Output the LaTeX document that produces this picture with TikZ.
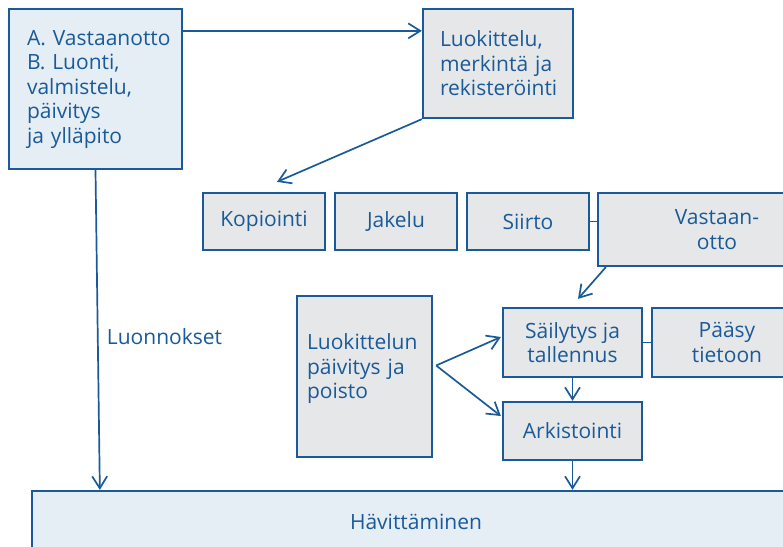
\documentclass[tikz,border=0pt]{standalone}
\usepackage{fontspec}
\setmainfont{Open Sans}
\usetikzlibrary{arrows.meta}
\definecolor{tblue}{HTML}{1A5A98}
\definecolor{lblue}{HTML}{E5EDF5}
\definecolor{lgrey}{HTML}{E6E7E9}

\begin{document}
\begin{tikzpicture}[x=1pt,y=-1pt,
	box/.style={draw=tblue,line width=2.3pt,fill=lgrey,text=tblue,inner sep=0pt,
		font=\fontsize{21}{24.5}\selectfont,align=center},
	flow/.style={draw=tblue,line width=1.7pt,-{Straight Barb[length=12pt,width=15pt]}},
	link/.style={draw=tblue,line width=1.7pt}]
	
	\clip (0,0) rectangle (783,546);
	
	% The upper boxes
	\node[box,fill=lblue,minimum width=173pt,minimum height=160pt,
	      text width=137pt,inner xsep=18pt,align=left]
	      (luonti) at (95.5,89)
	      {\mbox{A. Vastaanotto}\\B. Luonti,\\valmistelu,\\päivitys\\ja ylläpito};
	\node[box,minimum width=150pt,minimum height=109pt,
	      text width=116pt,inner xsep=17pt,align=left]
	      (luok) at (498,63.5)
	      {Luokittelu,\\merkintä ja\\\mbox{rekisteröinti}};
	
	% The middle row
	\foreach \name/\txt [count=\i] in {kop/Kopiointi,jak/Jakelu,siirto/Siirto}{
		\node[box,minimum width=122pt,minimum height=57pt]
		      (\name) at ({132*\i+132},221.5) {\txt};
	}
	\node[box,minimum width=238pt,minimum height=73pt] (vast) at (717,229.5)
	      {Vastaan-\\otto};
	
	% The lower boxes
	\node[box,minimum width=135pt,minimum height=161pt,
	      text width=115pt,inner xsep=10pt,align=left]
	      (paiv) at (364.5,376.5)
	      {Luokittelun\\päivitys ja\\poisto\\[-4pt]\mbox{}};
	\node[box,minimum width=139pt,minimum height=69pt] (sail) at (572.5,342.5)
	      {Säilytys ja\\tallennus};
	\node[box,minimum width=150pt,minimum height=69pt] (paasy) at (727,342.5)
	      {Pääsy\\tietoon};
	\node[box,minimum width=139pt,minimum height=58pt] (ark) at (572.5,431)
	      {Arkistointi};
	\node[box,fill=lblue,minimum width=768pt,minimum height=62pt] (hav) at (416,522)
	      {Hävittäminen};
	
	% The arrows
	\draw[flow] ([yshift=-23pt]luonti.north east) -- ([yshift=-23pt]luok.north west);
	\draw[flow] (luok.south west) -- ([shift={(13pt,10pt)}]kop.north);
	\draw[link] (siirto.east) -- (vast.west |- siirto.east);
	\draw[flow] ([xshift=9pt]vast.south west) -- ([shift={(5.5pt,8pt)}]sail.north);
	\draw[link] (sail.east) -- (paasy.west);
	\coordinate (fork) at ([shift={(3pt,11pt)}]paiv.east);
	\draw[flow] (fork) -- ([shift={(-1pt,5.5pt)}]sail.west);
	\draw[flow] (fork) -- ([shift={(-1pt,15pt)}]ark.west);
	\draw[flow] (sail.south) -- (ark.north);
	\draw[flow] (ark.south) -- (ark.south |- hav.north);
	\coordinate (drafts) at ([xshift=69pt]hav.north west);
	\draw[flow] (luonti.south) -- (drafts)
	      node[pos=0.52,anchor=west,xshift=5pt,text=tblue,
	           font=\fontsize{21}{24.5}\selectfont] (lbl) {Luonnokset};
	
\end{tikzpicture}
\end{document}
